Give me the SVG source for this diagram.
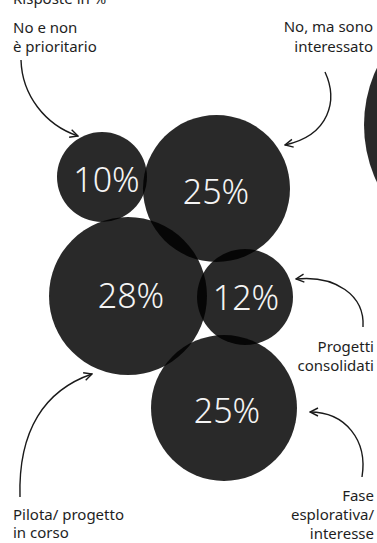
<svg xmlns="http://www.w3.org/2000/svg" width="377" height="543" viewBox="0 0 377 543">
  <style>
    .bub { fill: #000; fill-opacity: 0.84; }
    .pct { font-family: "Noto Sans", "Open Sans", sans-serif; font-weight: 300; font-size: 34px; fill: #f4f4f4; text-anchor: middle; }
    .lbl { font-family: "Noto Sans", "Open Sans", sans-serif; font-size: 15px; fill: #1e1e1e; }
    .r { text-anchor: end; }
    .arr { fill: none; stroke: #1a1a1a; stroke-width: 1.4; marker-end: url(#ah); }
  </style>
  <defs>
    <marker id="ah" viewBox="0 0 10 10" refX="9" refY="5" markerWidth="10" markerHeight="10" markerUnits="userSpaceOnUse" orient="auto">
      <path d="M1,1 L9,5 L1,9" fill="none" stroke="#1a1a1a" stroke-width="1.4"/>
    </marker>
  </defs>
  <rect width="377" height="543" fill="#ffffff"/>
  <text class="lbl" x="13" y="4">Risposte in %</text>

  <g id="extra-circle">
    <circle class="bub" cx="497" cy="125" r="133"/>
  </g>
  <g id="node-10">
    <circle class="bub" cx="102" cy="177" r="45"/>
  </g>
  <g id="node-25a">
    <circle class="bub" cx="216.5" cy="188.5" r="73.5"/>
  </g>
  <g id="node-28">
    <circle class="bub" cx="128" cy="296" r="79"/>
  </g>
  <g id="node-12">
    <circle class="bub" cx="245" cy="297" r="48"/>
  </g>
  <g id="node-25b">
    <circle class="bub" cx="224" cy="408" r="73"/>
  </g>

  <g id="pct-labels">
    <text class="pct" x="106.5" y="192">10%</text>
    <text class="pct" x="216" y="204">25%</text>
    <text class="pct" x="131" y="308">28%</text>
    <text class="pct" x="246" y="310">12%</text>
    <text class="pct" x="227" y="423">25%</text>
  </g>

  <g id="label-no-prioritario">
    <text class="lbl" x="13" y="33">No e non</text>
    <text class="lbl" x="13" y="52">è prioritario</text>
  </g>
  <g id="label-interessato">
    <text class="lbl r" x="373" y="32">No, ma sono</text>
    <text class="lbl r" x="373" y="52">interessato</text>
  </g>
  <g id="label-consolidati">
    <text class="lbl r" x="374" y="352">Progetti</text>
    <text class="lbl r" x="374" y="371">consolidati</text>
  </g>
  <g id="label-pilota">
    <text class="lbl" x="13" y="520">Pilota/ progetto</text>
    <text class="lbl" x="13" y="538">in corso</text>
  </g>
  <g id="label-fase">
    <text class="lbl r" x="374" y="501">Fase</text>
    <text class="lbl r" x="374" y="520">esplorativa/</text>
    <text class="lbl r" x="374" y="539">interesse</text>
  </g>

  <g id="connectors">
    <path class="arr" d="M21,60 C22,95 45,125 78,136"/>
    <path class="arr" d="M325,72 C338,100 330,135 285,145"/>
    <path class="arr" d="M363,327 C365,295 335,275 296,279"/>
    <path class="arr" d="M20,497 C18,430 45,390 92,374"/>
    <path class="arr" d="M362,477 C368,440 345,412 310,412"/>
  </g>
</svg>
